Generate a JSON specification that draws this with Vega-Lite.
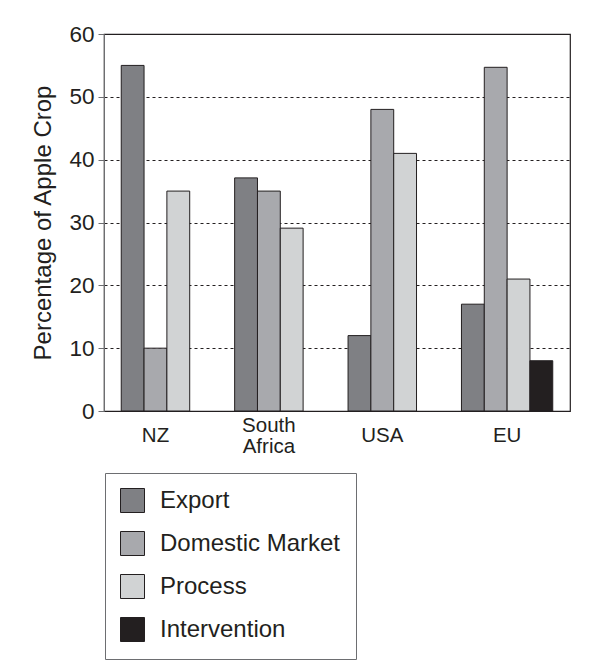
{
  "$schema": "https://vega.github.io/schema/vega-lite/v6.json",
  "width": 466,
  "height": 377,
  "autosize": {"type": "none"},
  "padding": {"left": 104, "top": 34, "right": 32, "bottom": 259},
  "background": "white",
  "config": {
    "font": "Liberation Sans",
    "view": {"stroke": "#231f20", "strokeWidth": 1.2},
    "axis": {"labelColor": "#231f20", "titleColor": "#231f20"}
  },
  "data": {
    "values": [
      {"country": "NZ", "category": "Export", "value": 55},
      {"country": "NZ", "category": "Domestic Market", "value": 10},
      {"country": "NZ", "category": "Process", "value": 35},
      {"country": "South Africa", "category": "Export", "value": 37.1},
      {"country": "South Africa", "category": "Domestic Market", "value": 35},
      {"country": "South Africa", "category": "Process", "value": 29.1},
      {"country": "USA", "category": "Export", "value": 12},
      {"country": "USA", "category": "Domestic Market", "value": 48},
      {"country": "USA", "category": "Process", "value": 41},
      {"country": "EU", "category": "Export", "value": 17},
      {"country": "EU", "category": "Domestic Market", "value": 54.7},
      {"country": "EU", "category": "Process", "value": 21},
      {"country": "EU", "category": "Intervention", "value": 8}
    ]
  },
  "mark": {"type": "bar", "stroke": "#231f20", "strokeWidth": 1},
  "encoding": {
    "x": {
      "field": "country",
      "type": "nominal",
      "sort": ["NZ", "South Africa", "USA", "EU"],
      "scale": {"paddingInner": 0.195, "paddingOuter": 0.152},
      "axis": {
        "title": null,
        "labelAngle": 0,
        "ticks": false,
        "domain": false,
        "labelFontSize": 20.5,
        "labelPadding": {"condition": {"test": "datum.value == 'South Africa'", "value": 14}, "value": 24},
        "labelBaseline": "middle",
        "labelLineHeight": 21,
        "labelExpr": "datum.value == 'South Africa' ? ['South', 'Africa'] : datum.value",
        "labelOffset": {"condition": {"test": "datum.value == 'EU'", "value": 0}, "value": -11.4}
      }
    },
    "xOffset": {
      "field": "category",
      "type": "nominal",
      "sort": ["Export", "Domestic Market", "Process", "Intervention"],
      "scale": {"paddingInner": 0, "paddingOuter": 0}
    },
    "y": {
      "field": "value",
      "type": "quantitative",
      "scale": {"domain": [0, 60], "nice": false},
      "axis": {
        "values": [0, 10, 20, 30, 40, 50, 60],
        "title": "Percentage of Apple Crop",
        "titleFontSize": 24,
        "titleFontWeight": "normal",
        "titlePadding": 13,
        "labelFontSize": 22.5,
        "tickSize": 6,
        "labelPadding": 4,
        "grid": true,
        "gridColor": "#231f20",
        "gridDash": [3, 3],
        "gridWidth": 1,
        "domainColor": "#6d6e71",
        "tickColor": "#6d6e71"
      }
    },
    "color": {
      "field": "category",
      "type": "nominal",
      "scale": {
        "domain": ["Export", "Domestic Market", "Process", "Intervention"],
        "range": ["#7f8084", "#a8a9ad", "#d1d3d4", "#231f20"]
      },
      "legend": {
        "orient": "none",
        "legendX": 1,
        "legendY": 439,
        "title": null,
        "direction": "vertical",
        "strokeColor": "#6d6e71",
        "fillColor": "white",
        "padding": 15,
        "symbolType": "square",
        "symbolSize": 576,
        "symbolStrokeColor": "#231f20",
        "symbolStrokeWidth": 1,
        "symbolOpacity": 1,
        "labelFontSize": 24,
        "labelColor": "#231f20",
        "labelOffset": 15,
        "rowPadding": 14,
        "labelLimit": 300
      }
    }
  }
}
